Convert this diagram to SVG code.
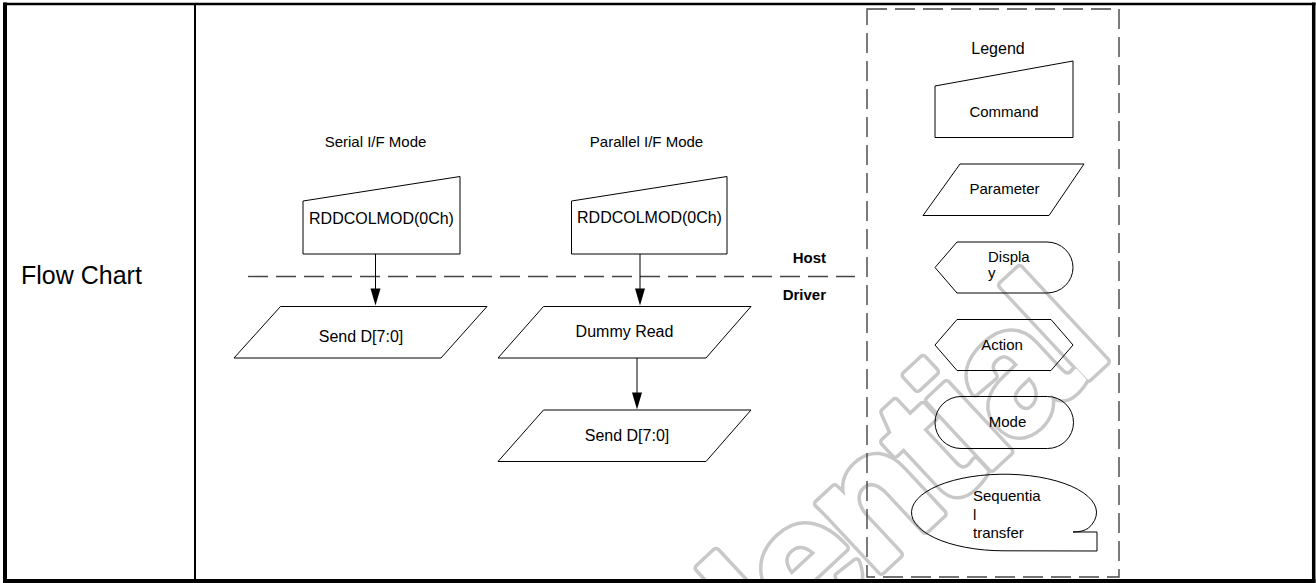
<svg xmlns="http://www.w3.org/2000/svg" width="1316" height="583" viewBox="0 0 1316 583">
<defs>
<style>
text{font-family:"Liberation Sans",Arial,sans-serif;fill:#000}
.t15{font-size:15px}
.t16{font-size:16px}
.c{text-anchor:middle}
.b{font-weight:bold}
.shape{fill:none;stroke:#000;stroke-width:1}
.dash{fill:none;stroke:#444;stroke-width:1.4;stroke-dasharray:20 8}
.conn line{stroke:#000;stroke-width:1}
.conn polygon{fill:#000}
.wm{font-size:175px;font-weight:bold;letter-spacing:-7px;stroke-linejoin:round}
.wm1{fill:#c8c8c8;stroke:#c8c8c8;stroke-width:10}
.wm2{fill:#fff;stroke:#fff;stroke-width:3}
</style>
</defs>
<rect width="1316" height="583" fill="#fff"/>
<g id="watermark">
<text class="wm wm1" transform="translate(432,990) rotate(-43)">Confidential</text>
<text class="wm wm2" transform="translate(432,990) rotate(-43)">Confidential</text>
</g>
<g id="table">
<line x1="5" y1="2.5" x2="5" y2="583" stroke="#000" stroke-width="4"/>
<line x1="3" y1="4" x2="1315.5" y2="4" stroke="#000" stroke-width="2.5"/>
<line x1="1313.7" y1="2.5" x2="1313.7" y2="583" stroke="#000" stroke-width="3.5"/>
<line x1="3" y1="581" x2="1315.5" y2="581" stroke="#000" stroke-width="4"/>
<line x1="195" y1="4" x2="195" y2="581" stroke="#000" stroke-width="2"/>
<text x="21" y="283.5" style="font-size:25px">Flow Chart</text>
</g>
<g id="legend-box">
<rect class="dash" x="867" y="9" width="252" height="568"/>
<text class="t16 c" x="998" y="54">Legend</text>
</g>
<g id="host-driver">
<line class="dash" x1="248" y1="276.5" x2="855" y2="276.5"/>
<text class="t15 b" x="826" y="263" text-anchor="end">Host</text>
<text class="t15 b" x="826" y="300" text-anchor="end">Driver</text>
</g>
<g id="serial-title"><text class="t15 c" x="375.5" y="147">Serial I/F Mode</text></g>
<g id="parallel-title"><text class="t15 c" x="646.5" y="147">Parallel I/F Mode</text></g>
<g id="serial-cmd">
<path class="shape" d="M303,201 L460,176.5 L460,254 L303,254 Z"/>
<text class="t16 c" x="381.5" y="224">RDDCOLMOD(0Ch)</text>
</g>
<g id="serial-send">
<path class="shape" d="M280.5,306.5 L487,306.5 L441,358 L234,358 Z"/>
<text class="t16 c" x="361" y="341.5">Send D[7:0]</text>
</g>
<g id="parallel-cmd">
<path class="shape" d="M571.5,201 L727,176.5 L727,254 L571.5,254 Z"/>
<text class="t16 c" x="649.5" y="223">RDDCOLMOD(0Ch)</text>
</g>
<g id="parallel-dummy">
<path class="shape" d="M543.5,306.5 L751,306.5 L706,358 L498,358 Z"/>
<text class="t16 c" x="624.5" y="337">Dummy Read</text>
</g>
<g id="parallel-send">
<path class="shape" d="M543.5,410 L751,410 L706,461.5 L498,461.5 Z"/>
<text class="t16 c" x="627" y="441">Send D[7:0]</text>
</g>
<g id="connectors" class="conn">
<line x1="375.5" y1="254" x2="375.5" y2="290"/>
<polygon points="370.5,288.5 380.5,288.5 375.5,305.5"/>
<line x1="640" y1="254" x2="640" y2="290"/>
<polygon points="635,288.5 645,288.5 640,305.5"/>
<line x1="637" y1="358" x2="637" y2="394"/>
<polygon points="632,392.5 642,392.5 637,409.5"/>
</g>
<g id="legend-command">
<path class="shape" d="M935,86 L1073,61 L1073,137.5 L935,137.5 Z"/>
<text class="t15 c" x="1004" y="117">Command</text>
</g>
<g id="legend-parameter">
<path class="shape" d="M960,164 L1084,164 L1049,215.5 L923,215.5 Z"/>
<text class="t15 c" x="1004.5" y="194">Parameter</text>
</g>
<g id="legend-display">
<path class="shape" d="M935,267.5 L957,242 L1047,242 A26,25.5 0 0 1 1047,293 L957,293 Z"/>
<text class="t15" x="988" y="262">Displa</text>
<text class="t15" x="988" y="278">y</text>
</g>
<g id="legend-action">
<path class="shape" d="M935,345 L957,319.5 L1051,319.5 L1073,345 L1051,370.5 L957,370.5 Z"/>
<text class="t15 c" x="1002" y="349.5">Action</text>
</g>
<g id="legend-mode">
<rect class="shape" x="935" y="396.5" width="138.5" height="52" rx="26" ry="26"/>
<text class="t15 c" x="1007.5" y="426.5">Mode</text>
</g>
<g id="legend-sequential">
<path class="shape" d="M1004,550.8 A92.5,38.3 0 1 1 1088.6,528 Q1083,532 1073,532 L1097,532 L1097,551 Z"/>
<text class="t15" x="973" y="501">Sequentia</text>
<text class="t15" x="973" y="519.5">l</text>
<text class="t15" x="973" y="538">transfer</text>
</g>
</svg>
